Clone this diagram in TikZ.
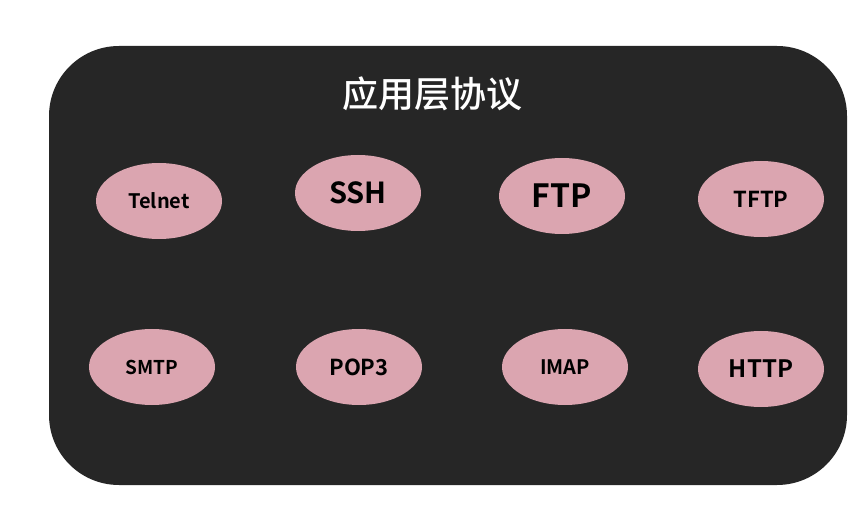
\documentclass[tikz,border=0pt]{standalone}
\usepackage{fontspec}
\setmainfont{Noto Sans CJK SC}[BoldFont={Noto Sans CJK SC Bold}]
\newfontfamily\titlefont{Noto Sans CJK SC Medium}
\usetikzlibrary{shapes.geometric}
\definecolor{panel}{HTML}{262626}
\definecolor{proto}{HTML}{DBA5B0}

\begin{document}
\begin{tikzpicture}[
  x=1pt, y=-1pt,
  panelbox/.style={fill=panel, draw=none, rounded corners=70pt},
  proto/.style={ellipse, fill=proto, draw=none, text=black,
                minimum width=126pt, minimum height=76pt, inner sep=0pt},
  title/.style={text=white, font=\titlefont\fontsize{36}{42}\selectfont},
]
\useasboundingbox (0,0) rectangle (867,526);

% Background panel
\fill[panelbox] (49,46) rectangle (847,485);
\node[title] (ttl) at (432,94) {应用层协议};

% Top row
\node[proto, font=\fontsize{20}{24}\selectfont\bfseries] (telnet) at (159,201) {Telnet};
\node[proto, font=\fontsize{29}{35}\selectfont\bfseries] (ssh)    at (358,193) {SSH};
\node[proto, font=\fontsize{32}{38}\selectfont\bfseries] (ftp)    at (562,196) {FTP};
\node[proto, font=\fontsize{22}{26}\selectfont\bfseries] (tftp)   at (761,199) {TFTP};

% Bottom row
\node[proto, font=\fontsize{19}{23}\selectfont\bfseries] (smtp) at (152,367) {SMTP};
\node[proto, font=\fontsize{22}{26}\selectfont\bfseries] (pop)  at (359,367) {POP3};
\node[proto, font=\fontsize{20}{24}\selectfont\bfseries] (imap) at (565,367) {IMAP};
\node[proto, font=\fontsize{24}{28}\selectfont\bfseries] (http) at (761,369) {HTTP};

\end{tikzpicture}
\end{document}
